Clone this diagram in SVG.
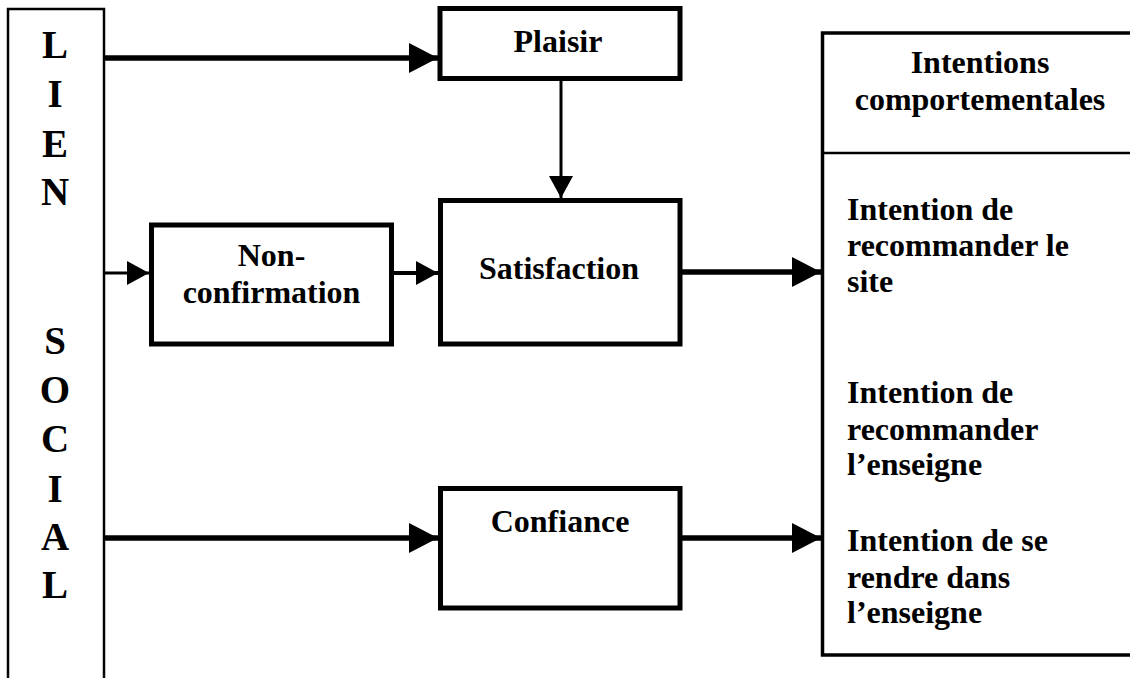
<svg xmlns="http://www.w3.org/2000/svg" width="1130" height="678" viewBox="0 0 1130 678">
  <style>
    .box { fill: #fff; stroke: #000; stroke-width: 5; }
    .thin { fill: none; stroke: #000; stroke-width: 2.5; }
    .t { font-family: "Liberation Serif", "Times New Roman", serif; font-weight: bold; font-size: 32px; fill: #000; }
    .c { text-anchor: middle; }
    .big { font-size: 39px; }
    .w5 { stroke: #000; stroke-width: 5.5; fill: none; }
    .w3 { stroke: #000; stroke-width: 3; fill: none; }
  </style>
  <defs>
    <marker id="headBig" markerUnits="userSpaceOnUse" markerWidth="29" markerHeight="30" refX="29" refY="15" orient="auto">
      <path d="M0,0 L29,15 L0,30 Z" fill="#000"/>
    </marker>
    <marker id="headSmall" markerUnits="userSpaceOnUse" markerWidth="22" markerHeight="24" refX="22" refY="12" orient="auto">
      <path d="M0,0 L22,12 L0,24 Z" fill="#000"/>
    </marker>
  </defs>
  <rect width="1130" height="678" fill="#fff"/>

  <g id="lien-social">
    <rect class="thin" x="8" y="9" width="96" height="700"/>
    <text class="t c big" x="55" y="58">L</text>
    <text class="t c big" x="55" y="107">I</text>
    <text class="t c big" x="55" y="157">E</text>
    <text class="t c big" x="55" y="205">N</text>
    <text class="t c big" x="55" y="354">S</text>
    <text class="t c big" x="55" y="403">O</text>
    <text class="t c big" x="55" y="452">C</text>
    <text class="t c big" x="55" y="502">I</text>
    <text class="t c big" x="55" y="550">A</text>
    <text class="t c big" x="55" y="598">L</text>
  </g>

  <g id="plaisir">
    <rect class="box" x="440" y="8.5" width="240" height="70"/>
    <text class="t c" x="558" y="52">Plaisir</text>
  </g>

  <g id="satisfaction">
    <rect class="box" x="440.5" y="200.5" width="239.5" height="143.5"/>
    <text class="t c" x="559" y="279">Satisfaction</text>
  </g>

  <g id="non-confirmation">
    <rect class="box" x="151.5" y="225" width="240" height="119"/>
    <text class="t c" x="271.5" y="266">Non-</text>
    <text class="t c" x="271.5" y="302.5">confirmation</text>
  </g>

  <g id="confiance">
    <rect class="box" x="440.5" y="488.5" width="239.5" height="119.5"/>
    <text class="t c" x="560" y="531.5">Confiance</text>
  </g>

  <g id="intentions">
    <rect class="thin" x="822.5" y="33" width="330" height="622" style="stroke-width:3.5"/>
    <line class="thin" x1="822" y1="153" x2="1140" y2="153"/>
    <text class="t c" x="980" y="73">Intentions</text>
    <text class="t c" x="980" y="110">comportementales</text>
    <text class="t" x="847" y="220">Intention de</text>
    <text class="t" x="847" y="256">recommander le</text>
    <text class="t" x="847" y="291.5">site</text>
    <text class="t" x="847" y="403">Intention de</text>
    <text class="t" x="847" y="440">recommander</text>
    <text class="t" x="847" y="475">l’enseigne</text>
    <text class="t" x="847" y="551">Intention de se</text>
    <text class="t" x="847" y="588">rendre dans</text>
    <text class="t" x="847" y="623">l’enseigne</text>
  </g>

  <g id="connectors">
    <path class="w5" d="M104,58 H438" marker-end="url(#headBig)"/>
    <path class="w3" d="M561,81 V198" marker-end="url(#headSmall)"/>
    <path class="w3" d="M104,273 H149" marker-end="url(#headSmall)"/>
    <path class="w3" d="M394,273 H438" marker-end="url(#headSmall)" style="stroke-width:4"/>
    <path class="w5" d="M682,272 H821" marker-end="url(#headBig)"/>
    <path class="w5" d="M104,538 H438" marker-end="url(#headBig)"/>
    <path class="w5" d="M682,538 H821" marker-end="url(#headBig)"/>
  </g>
</svg>
